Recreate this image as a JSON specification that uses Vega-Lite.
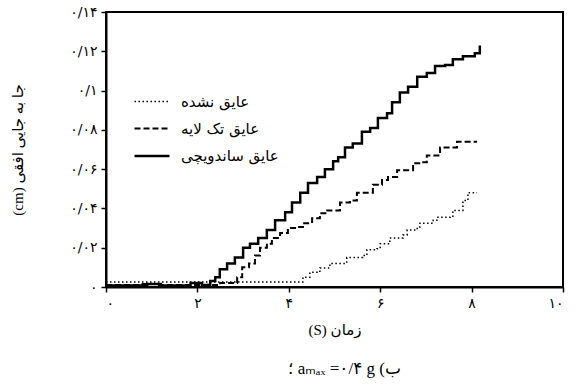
{
  "$schema": "https://vega.github.io/schema/vega-lite/v6.json",
  "width": 457,
  "height": 275,
  "autosize": {"type": "none"},
  "padding": {"left": 106, "top": 12, "right": 13, "bottom": 101},
  "background": "white",
  "config": {
    "view": {"stroke": "black", "strokeWidth": 2},
    "font": "Liberation Serif, DejaVu Sans"
  },
  "title": {
    "text": "؛ aₘₐₓ =۰/۴ g (ب",
    "orient": "bottom",
    "anchor": "middle",
    "offset": 24,
    "fontSize": 17,
    "fontWeight": "normal",
    "font": "Liberation Serif, DejaVu Sans",
    "color": "black",
    "dx": 10
  },
  "data": {
    "values": [
      {"s": "عایق نشده", "t": 0, "d": 0.0025},
      {"s": "عایق نشده", "t": 4.25, "d": 0.0025},
      {"s": "عایق نشده", "t": 4.31, "d": 0.005},
      {"s": "عایق نشده", "t": 4.46, "d": 0.0075},
      {"s": "عایق نشده", "t": 4.68, "d": 0.0097},
      {"s": "عایق نشده", "t": 4.9, "d": 0.012},
      {"s": "عایق نشده", "t": 5.23, "d": 0.0127},
      {"s": "عایق نشده", "t": 5.27, "d": 0.015},
      {"s": "عایق نشده", "t": 5.62, "d": 0.016},
      {"s": "عایق نشده", "t": 5.71, "d": 0.019},
      {"s": "عایق نشده", "t": 5.93, "d": 0.0195},
      {"s": "عایق نشده", "t": 6.0, "d": 0.022},
      {"s": "عایق نشده", "t": 6.21, "d": 0.025},
      {"s": "عایق نشده", "t": 6.5, "d": 0.0265},
      {"s": "عایق نشده", "t": 6.59, "d": 0.029},
      {"s": "عایق نشده", "t": 6.81, "d": 0.0305},
      {"s": "عایق نشده", "t": 6.87, "d": 0.0325},
      {"s": "عایق نشده", "t": 7.16, "d": 0.034},
      {"s": "عایق نشده", "t": 7.24, "d": 0.0355},
      {"s": "عایق نشده", "t": 7.53, "d": 0.036},
      {"s": "عایق نشده", "t": 7.59, "d": 0.039},
      {"s": "عایق نشده", "t": 7.75, "d": 0.039},
      {"s": "عایق نشده", "t": 7.81, "d": 0.044},
      {"s": "عایق نشده", "t": 7.92, "d": 0.048},
      {"s": "عایق نشده", "t": 8.12, "d": 0.048},

      {"s": "عایق تک لایه", "t": 0, "d": 0.001},
      {"s": "عایق تک لایه", "t": 0.8, "d": 0.0015},
      {"s": "عایق تک لایه", "t": 1.1, "d": 0.001},
      {"s": "عایق تک لایه", "t": 2.5, "d": 0.002},
      {"s": "عایق تک لایه", "t": 2.87, "d": 0.005},
      {"s": "عایق تک لایه", "t": 2.98, "d": 0.01},
      {"s": "عایق تک لایه", "t": 3.13, "d": 0.012},
      {"s": "عایق تک لایه", "t": 3.26, "d": 0.016},
      {"s": "عایق تک لایه", "t": 3.37, "d": 0.02},
      {"s": "عایق تک لایه", "t": 3.52, "d": 0.022},
      {"s": "عایق تک لایه", "t": 3.63, "d": 0.025},
      {"s": "عایق تک لایه", "t": 3.81, "d": 0.0275},
      {"s": "عایق تک لایه", "t": 3.98, "d": 0.03},
      {"s": "عایق تک لایه", "t": 4.18, "d": 0.0305},
      {"s": "عایق تک لایه", "t": 4.31, "d": 0.0325},
      {"s": "عایق تک لایه", "t": 4.51, "d": 0.035},
      {"s": "عایق تک لایه", "t": 4.68, "d": 0.0375},
      {"s": "عایق تک لایه", "t": 4.84, "d": 0.039},
      {"s": "عایق تک لایه", "t": 5.12, "d": 0.043},
      {"s": "عایق تک لایه", "t": 5.34, "d": 0.044},
      {"s": "عایق تک لایه", "t": 5.49, "d": 0.048},
      {"s": "عایق تک لایه", "t": 5.67, "d": 0.048},
      {"s": "عایق تک لایه", "t": 5.84, "d": 0.052},
      {"s": "عایق تک لایه", "t": 6.04, "d": 0.0545},
      {"s": "عایق تک لایه", "t": 6.17, "d": 0.056},
      {"s": "عایق تک لایه", "t": 6.37, "d": 0.0595},
      {"s": "عایق تک لایه", "t": 6.72, "d": 0.063},
      {"s": "عایق تک لایه", "t": 6.92, "d": 0.0635},
      {"s": "عایق تک لایه", "t": 7.02, "d": 0.067},
      {"s": "عایق تک لایه", "t": 7.31, "d": 0.071},
      {"s": "عایق تک لایه", "t": 7.68, "d": 0.074},
      {"s": "عایق تک لایه", "t": 8.12, "d": 0.074},

      {"s": "عایق ساندویچی", "t": 0, "d": 0.0008},
      {"s": "عایق ساندویچی", "t": 0.9, "d": 0.0015},
      {"s": "عایق ساندویچی", "t": 1.2, "d": 0.0008},
      {"s": "عایق ساندویچی", "t": 1.85, "d": 0.002},
      {"s": "عایق ساندویچی", "t": 2.1, "d": 0.001},
      {"s": "عایق ساندویچی", "t": 2.28, "d": 0.003},
      {"s": "عایق ساندویچی", "t": 2.39, "d": 0.005},
      {"s": "عایق ساندویچی", "t": 2.49, "d": 0.009},
      {"s": "عایق ساندویچی", "t": 2.65, "d": 0.012},
      {"s": "عایق ساندویچی", "t": 2.82, "d": 0.015},
      {"s": "عایق ساندویچی", "t": 3.0, "d": 0.02},
      {"s": "عایق ساندویچی", "t": 3.15, "d": 0.022},
      {"s": "عایق ساندویچی", "t": 3.33, "d": 0.025},
      {"s": "عایق ساندویچی", "t": 3.52, "d": 0.029},
      {"s": "عایق ساندویچی", "t": 3.7, "d": 0.034},
      {"s": "عایق ساندویچی", "t": 3.92, "d": 0.038},
      {"s": "عایق ساندویچی", "t": 4.07, "d": 0.043},
      {"s": "عایق ساندویچی", "t": 4.25, "d": 0.048},
      {"s": "عایق ساندویچی", "t": 4.42, "d": 0.053},
      {"s": "عایق ساندویچی", "t": 4.62, "d": 0.056},
      {"s": "عایق ساندویچی", "t": 4.79, "d": 0.06},
      {"s": "عایق ساندویچی", "t": 4.97, "d": 0.064},
      {"s": "عایق ساندویچی", "t": 5.08, "d": 0.066},
      {"s": "عایق ساندویچی", "t": 5.23, "d": 0.071},
      {"s": "عایق ساندویچی", "t": 5.4, "d": 0.073},
      {"s": "عایق ساندویچی", "t": 5.6, "d": 0.079},
      {"s": "عایق ساندویچی", "t": 5.78, "d": 0.081},
      {"s": "عایق ساندویچی", "t": 5.95, "d": 0.086},
      {"s": "عایق ساندویچی", "t": 6.15, "d": 0.0885},
      {"s": "عایق ساندویچی", "t": 6.26, "d": 0.094},
      {"s": "عایق ساندویچی", "t": 6.43, "d": 0.099},
      {"s": "عایق ساندویچی", "t": 6.61, "d": 0.102},
      {"s": "عایق ساندویچی", "t": 6.81, "d": 0.107},
      {"s": "عایق ساندویچی", "t": 7.02, "d": 0.109},
      {"s": "عایق ساندویچی", "t": 7.2, "d": 0.1125},
      {"s": "عایق ساندویچی", "t": 7.42, "d": 0.113},
      {"s": "عایق ساندویچی", "t": 7.59, "d": 0.116},
      {"s": "عایق ساندویچی", "t": 7.81, "d": 0.1175},
      {"s": "عایق ساندویچی", "t": 8.07, "d": 0.119},
      {"s": "عایق ساندویچی", "t": 8.18, "d": 0.123}
    ]
  },
  "mark": {"type": "line", "interpolate": "step-after", "color": "black", "strokeCap": "butt"},
  "encoding": {
    "x": {
      "field": "t", "type": "quantitative",
      "scale": {"domain": [0, 10], "nice": false},
      "axis": {
        "values": [0, 2, 4, 6, 8, 10],
        "labelExpr": "['۰','۲','۴','۶','۸','۱۰'][round(datum.value/2)]",
        "title": "(S) زمان",
        "grid": false,
        "domainColor": "black", "domainWidth": 2,
        "tickColor": "black", "tickWidth": 1.5, "tickSize": 5,
        "labelColor": "black", "labelFontSize": 14, "labelPadding": 4,
        "titleColor": "black", "titleFontSize": 15, "titleFontWeight": "normal",
        "titlePadding": 12,
        "labelFont": "DejaVu Sans", "titleFont": "Liberation Serif, DejaVu Sans"
      }
    },
    "y": {
      "field": "d", "type": "quantitative",
      "scale": {"domain": [0, 0.14], "nice": false},
      "axis": {
        "values": [0, 0.02, 0.04, 0.06, 0.08, 0.1, 0.12, 0.14],
        "labelExpr": "['۰','۰/۰۲','۰/۰۴','۰/۰۶','۰/۰۸','۰/۱','۰/۱۲','۰/۱۴'][round(datum.value*50)]",
        "title": "(cm) جا به جایی افقی",
        "grid": false,
        "domainColor": "black", "domainWidth": 2,
        "tickColor": "black", "tickWidth": 1.5, "tickSize": 5,
        "labelColor": "black", "labelFontSize": 14, "labelPadding": 4,
        "titleColor": "black", "titleFontSize": 15, "titleFontWeight": "normal",
        "titleX": -81,
        "labelFont": "DejaVu Sans", "titleFont": "Liberation Serif, DejaVu Sans"
      }
    },
    "strokeDash": {
      "field": "s", "type": "nominal",
      "scale": {
        "domain": ["عایق نشده", "عایق تک لایه", "عایق ساندویچی"],
        "range": [[1.5, 2.5], [6, 3], [1, 0]]
      },
      "legend": {
        "title": null,
        "orient": "none",
        "legendX": 27,
        "legendY": 71,
        "symbolType": "stroke",
        "symbolSize": 1225,
        "symbolStrokeColor": "black",
        "labelFontSize": 15,
        "labelColor": "black",
        "labelFont": "DejaVu Sans",
        "rowPadding": -4,
        "labelOffset": 10
      }
    },
    "strokeWidth": {
      "field": "s", "type": "nominal",
      "scale": {
        "domain": ["عایق نشده", "عایق تک لایه", "عایق ساندویچی"],
        "range": [1.5, 2.5, 4]
      },
      "legend": {
        "title": null,
        "orient": "none",
        "legendX": 27,
        "legendY": 71,
        "symbolType": "stroke",
        "symbolSize": 1225,
        "symbolStrokeColor": "black",
        "labelFontSize": 15,
        "labelColor": "black",
        "labelFont": "DejaVu Sans",
        "rowPadding": -4,
        "labelOffset": 10
      }
    }
  }
}
